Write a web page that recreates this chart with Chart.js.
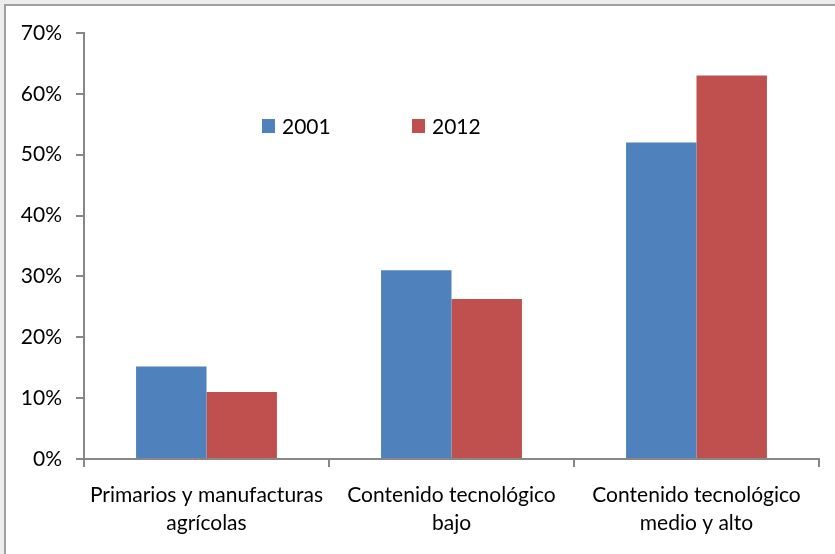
<!DOCTYPE html>
<html>
<head>
<meta charset="utf-8">
<script src="https://cdn.jsdelivr.net/npm/chart.js@4/dist/chart.umd.min.js"></script>
<style>
  body { margin: 0; background: #ffffff; }
  #wrap { position: relative; width: 835px; height: 554px; background: #ededed; overflow: hidden; }
  #frame { position: absolute; left: 4px; top: 4px; right: -4px; bottom: -4px; background: #ffffff;
           border-left: 2px solid #a0a0a0; border-top: 2px solid #a0a0a0; }
  canvas { position: absolute; left: 0; top: 0; }
</style>
</head>
<body>
<div id="wrap">
  <div id="frame"></div>
  <canvas id="myChart" width="835" height="554"></canvas>
</div>
<script>
// categorías y valores (porcentaje)
const categories = [
    ['Primarios y manufacturas', 'agrícolas'],
    ['Contenido tecnológico', 'bajo'],
    ['Contenido tecnológico', 'medio y alto']
]
const years = ['2001', '2012']
const values2001 = [15.2, 31, 52]
const values2012 = [11, 26.3, 63]
const yTicks = [0, 10, 20, 30, 40, 50, 60, 70]

const colors = ['#4F81BD', '#C0504D']
const axisColor = '#878787'
const fontFamily = 'Lato, "Open Sans", sans-serif'

// leyenda dentro del área del gráfico, como en el original
const insideLegend = {
    id: 'insideLegend',
    afterDraw(chart) {
        const ctx = chart.ctx
        const xs = [262, 412]
        const y = 126
        ctx.save()
        ctx.font = '21px ' + fontFamily
        ctx.textBaseline = 'middle'
        chart.data.datasets.forEach((ds, i) => {
            ctx.fillStyle = ds.backgroundColor
            ctx.fillRect(xs[i], y - 7, 13, 14)
            ctx.fillStyle = '#000000'
            ctx.fillText(ds.label, xs[i] + 20, y + 1)
        })
        ctx.restore()
    }
}

const ctx = document.querySelector('#myChart')
new Chart(ctx, {
    type: 'bar',
    data: {
        labels: categories,
        datasets: [
            { label: years[0], data: values2001, backgroundColor: colors[0] },
            { label: years[1], data: values2012, backgroundColor: colors[1] },
        ],
    },
    options: {
        responsive: false,
        animation: false,
        layout: { padding: { left: 0, right: 16, top: 33, bottom: 0 } },
        datasets: {
            bar: { categoryPercentage: 0.575, barPercentage: 1.0 }
        },
        plugins: {
            legend: { display: false },
            tooltip: { enabled: false },
        },
        scales: {
            x: {
                grid: {
                    offset: true,
                    drawOnChartArea: false,
                    color: axisColor,
                    lineWidth: 2,
                    tickLength: 8,
                },
                border: { color: axisColor, width: 2 },
                ticks: {
                    color: '#000000',
                    font: { family: fontFamily, size: 21, lineHeight: 1.33 },
                    padding: 14,
                    maxRotation: 0,
                    autoSkip: false,
                },
                afterFit(scale) { scale.height = 95 },
            },
            y: {
                min: 0,
                max: 70,
                afterBuildTicks(scale) { scale.ticks = yTicks.map(v => ({ value: v })) },
                grid: {
                    drawOnChartArea: false,
                    color: axisColor,
                    lineWidth: 2,
                    tickLength: 8,
                },
                border: { color: axisColor, width: 2 },
                ticks: {
                    color: '#000000',
                    font: { family: fontFamily, size: 21 },
                    padding: 14,
                    callback: v => v + '%',
                },
                afterFit(scale) { scale.width = 84 },
            },
        },
    },
    plugins: [insideLegend],
})
</script>
</body>
</html>
